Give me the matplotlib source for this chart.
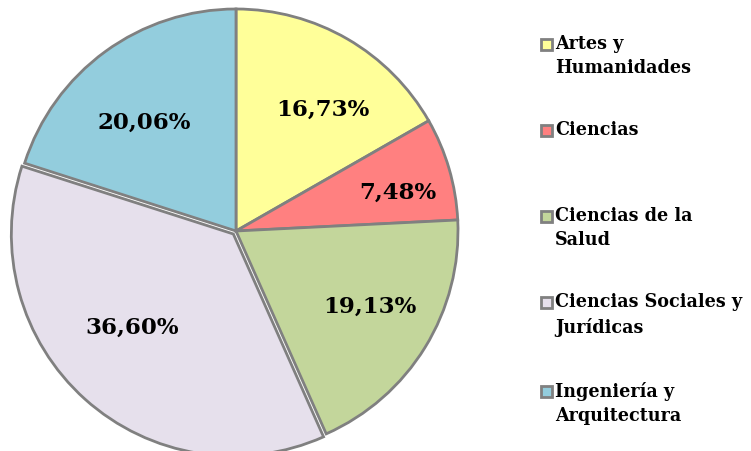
import matplotlib
matplotlib.use("Agg")
import matplotlib.pyplot as plt
from matplotlib.patches import Rectangle
import numpy as np

categories = ["Artes y\nHumanidades", "Ciencias", "Ciencias de la\nSalud",
              "Ciencias Sociales y\nJurídicas", "Ingeniería y\nArquitectura"]
values = [16.73, 7.48, 19.13, 36.60, 20.06]
colors = ["#FFFF99", "#FF8080", "#C3D69B", "#E6E0EC", "#93CDDD"]
explode = [0, 0, 0, 4, 0]

W, H = 751, 452
R = 222
fig = plt.figure(figsize=(W/100, H/100), dpi=100)
ax = fig.add_axes([0, 0, 1, 1])

font = dict(family="DejaVu Serif", weight="bold")

wedges, texts = ax.pie(values, colors=colors, startangle=90, counterclock=False,
                       center=(236, H-232), radius=R, explode=explode,
                       wedgeprops=dict(edgecolor="#808080", linewidth=2),
                       frame=True)
ax.set_xlim(0, W)
ax.set_ylim(0, H)
ax.set_aspect('equal')
ax.axis('off')

pcts = [f"{v:.2f}%".replace(".", ",") for v in values]
label_r = [0.676, 0.75, 0.69, 0.637, 0.642]
label_da = [-5.4, -2.8, 2.4, -5.4, 4.1]
ang = 90.0
for v, p, r, da in zip(values, pcts, label_r, label_da):
    span = v / 100 * 360
    mid = np.deg2rad(ang - span / 2 + da)
    ang -= span
    cx, cy = 236, H - 232
    ax.text(cx + r*R*np.cos(mid), cy + r*R*np.sin(mid), p, ha="center", va="center",
            fontsize=16.5, **font)

# legend
ys = [45, 131, 217, 303, 392]
for lab, c, y in zip(categories, colors, ys):
    ax.add_patch(Rectangle((541, H - y - 5.5), 11, 11, facecolor=c, edgecolor="#808080",
                           linewidth=2, clip_on=False))
    ax.text(555, H - y + 10, lab, ha="left", va="top", fontsize=14, linespacing=1.45,
            stretch="condensed", **font)

fig.savefig("out.png", dpi=100)
